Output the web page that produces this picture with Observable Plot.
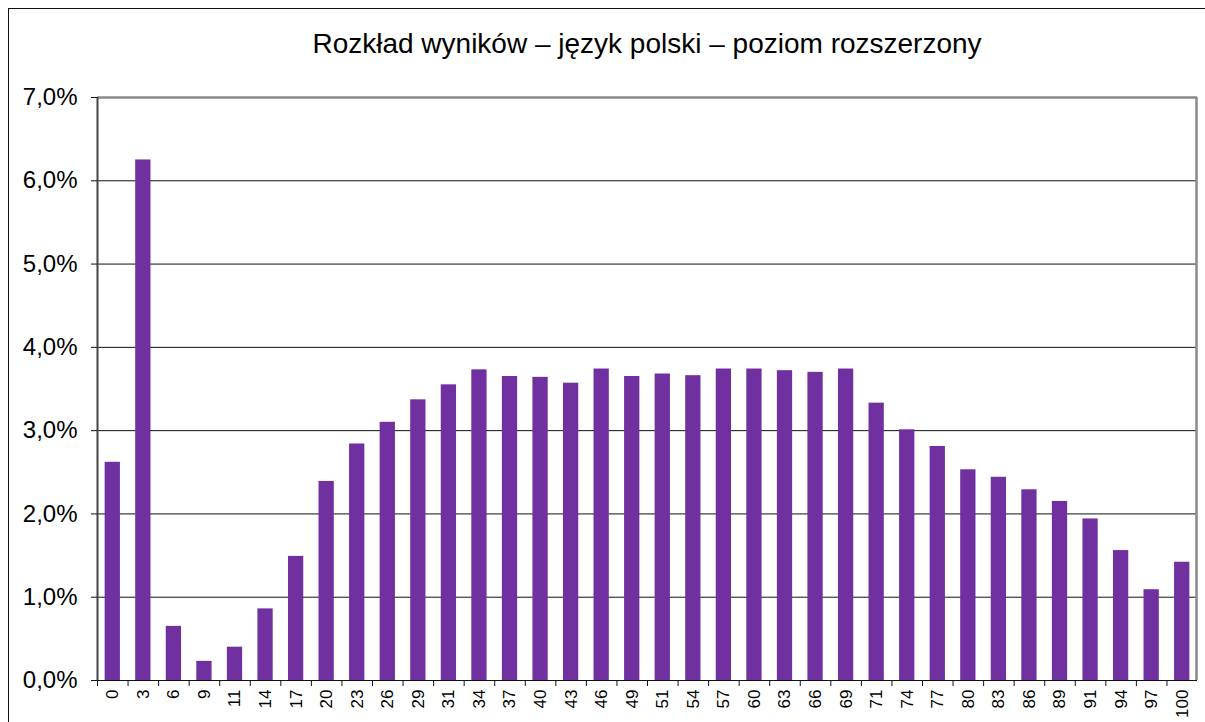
<!DOCTYPE html>
<html>
<head>
<meta charset="utf-8">
<script src="https://cdn.jsdelivr.net/npm/d3@7"></script>
<script src="https://cdn.jsdelivr.net/npm/@observablehq/plot@0.6"></script>
<style>
  html, body { margin: 0; padding: 0; background: #fff; overflow: hidden; width: 1205px; height: 722px; }
  #wrap { position: relative; width: 1205px; height: 722px; }
  #border { position: absolute; left: 8px; top: 8px; width: 1300px; height: 900px; border: 1.5px solid #111; box-sizing: border-box; }
  #title { position: absolute; left: 97px; width: 1100px; top: 28px; text-align: center;
           font-family: "Liberation Sans", Arial, sans-serif; font-size: 28px; color: #000; }
  #chart { position: absolute; left: 0; top: 0; }
</style>
</head>
<body>
<div id="wrap">
  <div id="border"></div>
  <div id="chart"></div>
  <div id="title">Rozkład wyników – język polski – poziom rozszerzony</div>
</div>
<script>
const categories = ["0","3","6","9","11","14","17","20","23","26","29","31","34","37","40","43","46","49","51","54","57","60","63","66","69","71","74","77","80","83","86","89","91","94","97","100"];
const values = [2.62,6.25,0.65,0.23,0.40,0.86,1.49,2.39,2.84,3.10,3.37,3.55,3.73,3.65,3.64,3.57,3.74,3.65,3.68,3.66,3.74,3.74,3.72,3.70,3.74,3.33,3.01,2.81,2.53,2.44,2.29,2.15,1.94,1.56,1.09,1.42];
const yTicks = [0,1,2,3,4,5,6,7];

const data = categories.map((c, i) => ({cat: c, value: values[i]}));
const fmt = d => d.toFixed(1).replace(".", ",") + "%";

const W = 1205, H = 722;
const mL = 97, mR = 8, mT = 97, mB = 42;
const bw = (W - mL - mR) / categories.length;

const chart = Plot.plot({
  width: W,
  height: H,
  marginLeft: mL,
  marginRight: mR,
  marginTop: mT,
  marginBottom: mB,
  style: {fontFamily: "'Liberation Sans', Arial, sans-serif", background: "transparent", color: "#000"},
  x: {type: "band", domain: categories, paddingInner: 0.5, paddingOuter: 0.25, align: 0.5, round: false, label: null},
  y: {domain: [0, 7], label: null},
  marks: [
    Plot.gridY(yTicks.slice(1, 7), {stroke: "#111", strokeOpacity: 1, strokeWidth: 1}),
    Plot.ruleY([7], {stroke: "#8a8a8a", strokeWidth: 2.5}),
    Plot.barY(data, {x: "cat", y: "value", fill: "#7030A0", inset: 0}),
    Plot.ruleX([categories[categories.length - 1]], {dx: bw / 2 - 1, y1: 0, y2: 7, stroke: "#8a8a8a", strokeWidth: 2.5}),
    Plot.ruleY([0], {stroke: "#111", strokeWidth: 1.2}),
    Plot.ruleX([categories[0]], {dx: -bw / 2, y1: 0, y2: 7, stroke: "#444", strokeWidth: 2}),
    Plot.axisY(yTicks, {tickSize: 6, tickPadding: 14, tickFormat: fmt, fontSize: 24, stroke: "#111", color: "#000"}),
    Plot.axisX({tickSize: 6, dx: -bw / 2, tickFormat: () => "", stroke: "#111"}),
    Plot.axisX({tickSize: 0, tickPadding: 9, tickRotate: -90, fontSize: 17, color: "#000"})
  ]
});
document.getElementById("chart").appendChild(chart);
</script>
</body>
</html>
